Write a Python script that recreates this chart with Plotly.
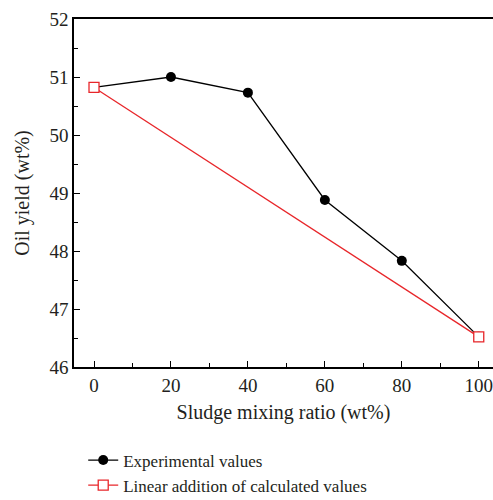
import plotly.graph_objects as go

# Sludge mixing ratio (wt%)
ratio = [0, 20, 40, 60, 80, 100]
# Measured oil yield (wt%)
experimental = [50.82, 51.0, 50.73, 48.88, 47.83, 46.52]
# Linear addition of the two pure-component yields
linear_ratio = [0, 100]
linear_calc = [50.82, 46.52]

font_family = "Liberation Serif, Times New Roman, serif"
text_color = "#231f20"

fig = go.Figure()
fig.add_trace(go.Scatter(
    x=ratio, y=experimental, mode="lines+markers",
    name="Experimental values",
    line=dict(color="black", width=1.3),
    marker=dict(symbol="circle", size=10, color="black"),
))
fig.add_trace(go.Scatter(
    x=linear_ratio, y=linear_calc, mode="lines+markers",
    name="Linear addition of calculated values",
    line=dict(color="#e8262a", width=1.3),
    marker=dict(symbol="square", size=10, color="white",
                line=dict(width=1.3, color="#e8262a")),
))

axis_common = dict(
    showgrid=False, zeroline=False, showline=True, linecolor="black", linewidth=1.5,
    ticks="inside", ticklen=6, tickwidth=1.3, tickcolor="black",
    tickfont=dict(family=font_family, size=19, color=text_color),
    ticklabeloverflow="allow",
)

fig.update_xaxes(
    **axis_common,
    range=[-5.2, 103.7], tickvals=[0, 20, 40, 60, 80, 100], mirror=True,
    minor=dict(ticks="inside", ticklen=4, tickwidth=1.2, tickcolor="black", dtick=10, tick0=0),
    title=dict(text="Sludge mixing ratio (wt%)", font=dict(family=font_family, size=20, color=text_color), standoff=10),
    automargin=False,
)
fig.update_yaxes(
    **axis_common,
    range=[46, 52], dtick=1,
    minor=dict(ticks="inside", ticklen=4, tickwidth=1.2, tickcolor="black", dtick=0.5, tick0=0),
    title=dict(text="Oil yield (wt%)", font=dict(family=font_family, size=20, color=text_color), standoff=14),
    automargin=False,
)

fig.update_layout(
    width=493, height=500,
    margin=dict(l=74, r=0, t=19, b=133),
    plot_bgcolor="white", paper_bgcolor="white",
    showlegend=True,
    legend=dict(
        x=0.022, xanchor="left",
        yref="container", y=0.115, yanchor="top",
        font=dict(family=font_family, size=17, color=text_color),
        tracegroupgap=0, itemwidth=30, bgcolor="rgba(0,0,0,0)",
    ),
)

fig.write_html("out.html")
